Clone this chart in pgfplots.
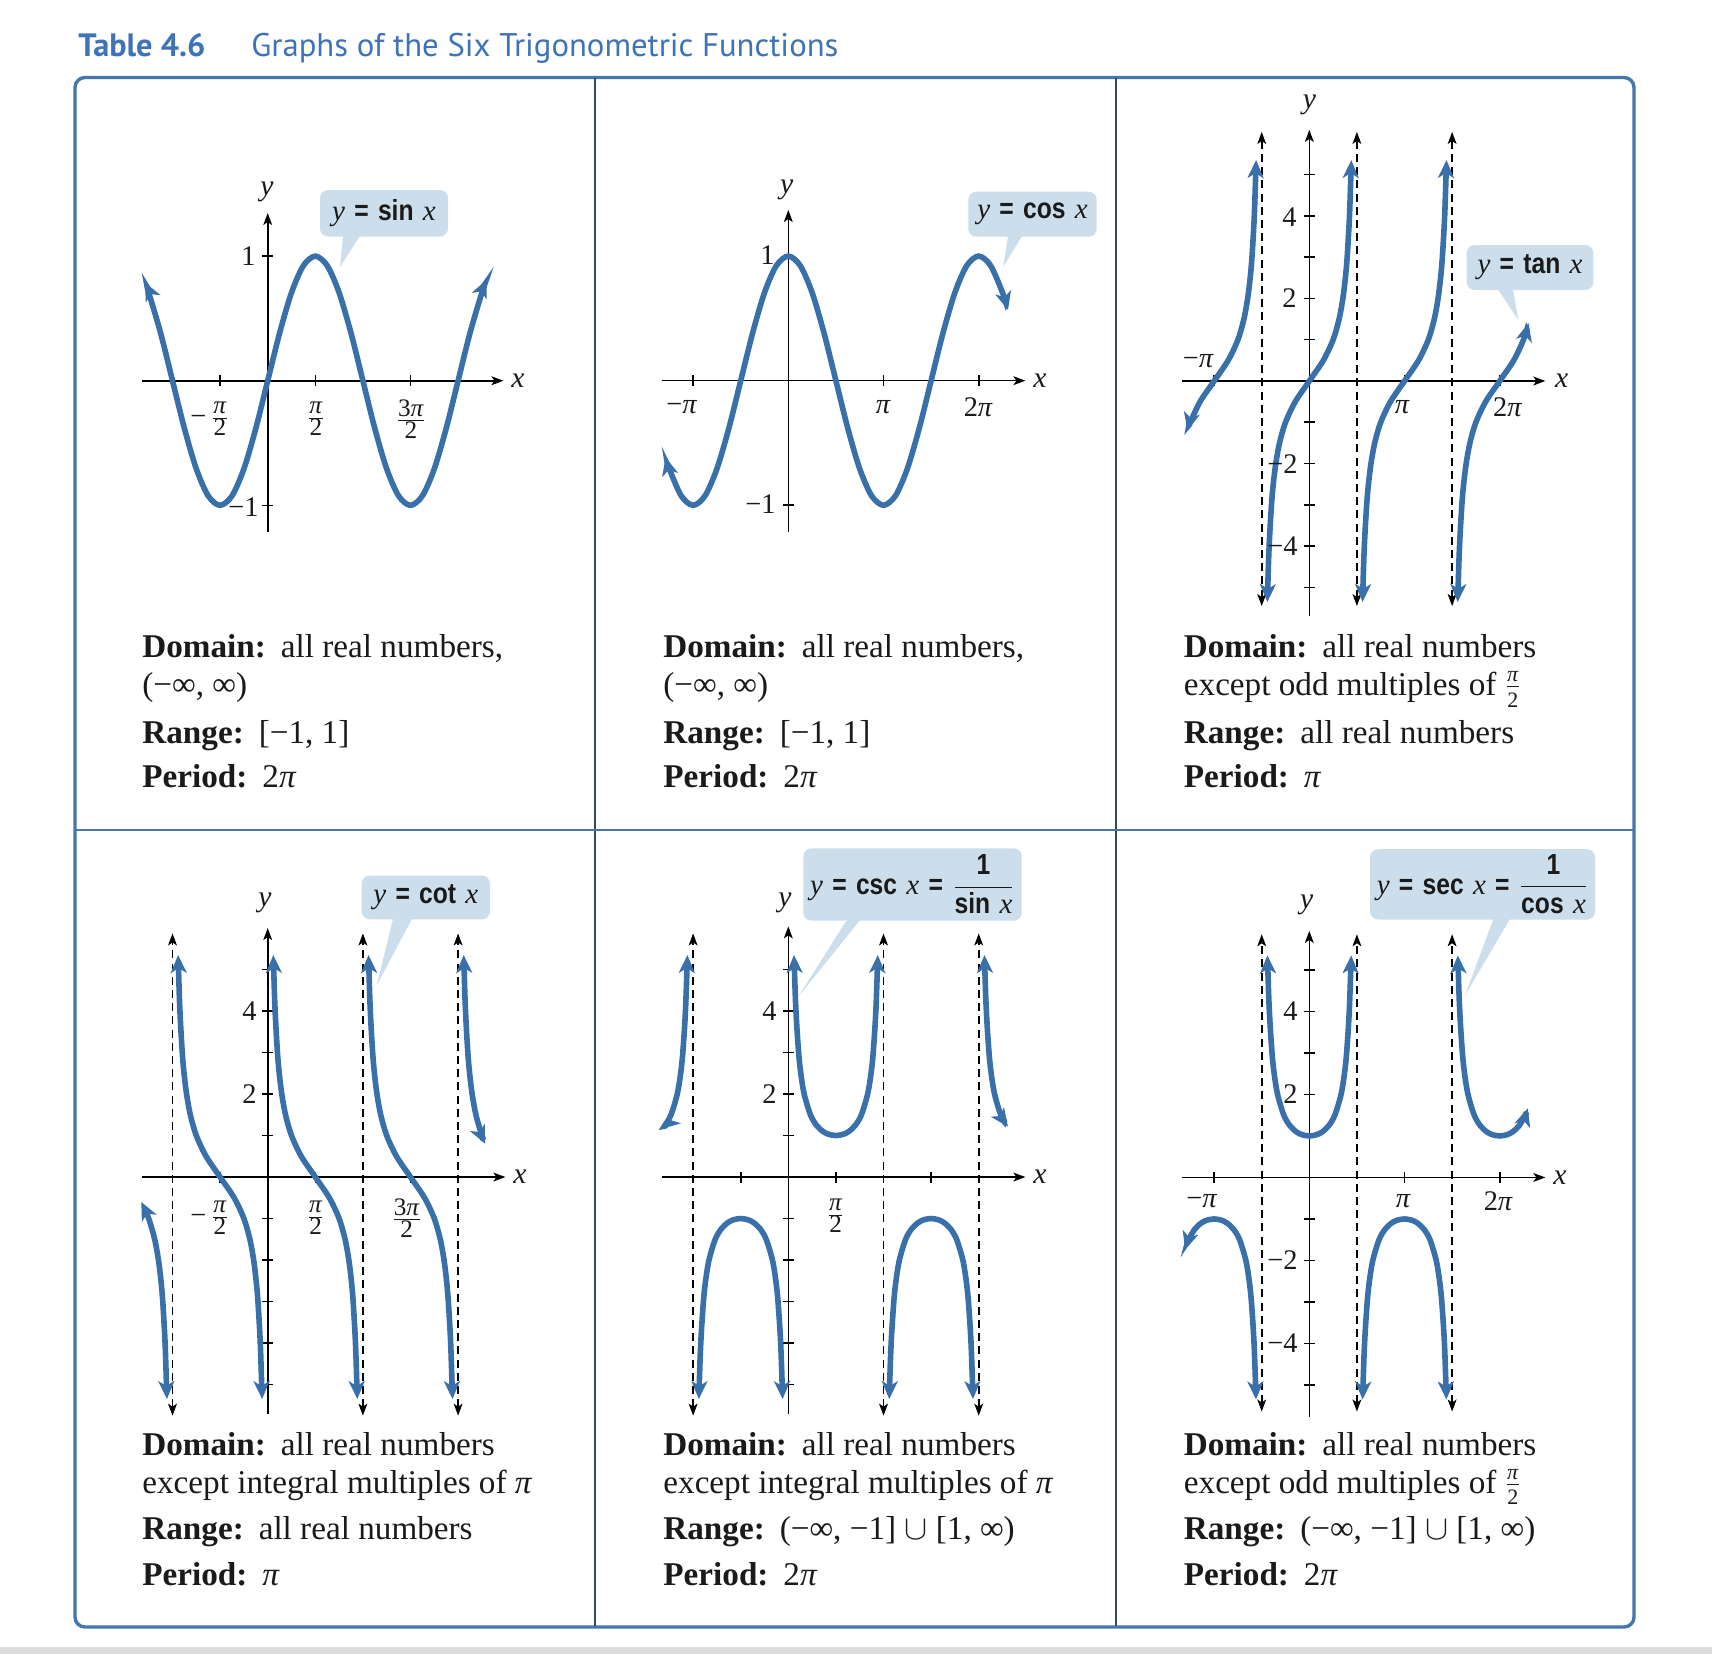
\documentclass[border=0pt]{standalone}
\usepackage{pgfplots}
\pgfplotsset{compat=1.18}
\usetikzlibrary{arrows.meta}
\usepackage{graphicx}
\usepackage{fontspec}
\setmainfont{Liberation Serif}
\newfontfamily\titlefont{PT Sans}
\newfontfamily\csans[FakeStretch=0.85]{Liberation Sans}

\definecolor{curveblue}{HTML}{3A70AA}
\definecolor{titleblue}{HTML}{3F73B8}
\definecolor{boxblue}{HTML}{4677AC}
\definecolor{divnavy}{HTML}{2E4A6B}
\definecolor{callfill}{HTML}{CCDEEB}
\definecolor{bargray}{HTML}{DCDDDF}
\definecolor{txt}{HTML}{1A1A1A}

\newcommand{\tkf}{\fontsize{14.2pt}{16pt}\selectfont}
\newcommand{\axf}{\fontsize{14.8pt}{16pt}\selectfont\itshape}
\newcommand{\btf}{\fontsize{16.6pt}{20pt}\selectfont}
\newcommand{\ctf}{\fontsize{14.5pt}{17pt}\selectfont}
\newcommand{\csb}[1]{{\csans\bfseries #1}}
\newcommand{\cg}{\hspace{0.32em}}
\newcommand{\pii}{\textit{π}}
\newcommand{\myfr}[1]{$\frac{\mbox{\fontsize{12.6pt}{13pt}\selectfont #1}}{\mbox{\fontsize{12.6pt}{13pt}\selectfont 2}}$}
\newcommand{\txtfr}{$\frac{\mbox{\fontsize{11pt}{12pt}\selectfont\textit{π}}}{\mbox{\fontsize{11pt}{12pt}\selectfont 2}}$}
\newcommand{\gap}{\hspace{0.45em}}

\tikzset{
  ctip/.tip={Stealth[length=9pt,width=8pt,inset=2.5pt]},
  atip/.tip={Stealth[length=6pt,width=4.4pt,inset=1.5pt]},
}
\pgfplotsset{
  trig/.style={
    axis lines=middle, enlargelimits=false, clip=false,
    anchor=south west, x=15.15pt,
    xticklabels={}, yticklabels={},
    xticklabel style={text opacity=0}, yticklabel style={text opacity=0},
    tick align=center, major tick length=5.5pt,
    tick style={black, line width=0.8pt},
    axis line style={black, line width=0.8pt},
    x axis line style={-atip}, y axis line style={-atip},
  },
  crv/.style={curveblue, line width=2.8pt, smooth, mark=none, arrows={ctip-ctip}},
  asy/.style={black, line width=0.8pt, dash pattern=on 4pt off 2.6pt, mark=none, arrows={atip-atip}},
}

\newcommand{\callout}[9]{%
  \fill[callfill, rounded corners=4pt] (#1,#2) rectangle (#3,#4);
  \fill[callfill] (#5,#4-0.5) -- (#7,#8) -- (#6,#4-0.5) -- cycle;
  \node[inner sep=0pt, text=txt] at ({(#1+#3)/2},{(#2+#4)/2}) {\ctf #9};}

\begin{document}
\begin{tikzpicture}[x=0.5pt,y=-0.5pt, lb/.style={inner sep=0pt, text=txt}]
\useasboundingbox (0,0) rectangle (1712,1654);
\fill[white] (0,0) rectangle (1712,1654);
\fill[bargray] (0,1647) rectangle (1712,1654);

% title
\node[inner sep=0pt, anchor=base west, text=titleblue] at (78,56) {\resizebox{63.5pt}{!}{\titlefont\bfseries Table 4.6}};
\node[inner sep=0pt, anchor=base west, text=titleblue] at (251,56) {\resizebox{293.5pt}{!}{\titlefont Graphs of the Six Trigonometric Functions}};

% frame
\draw[boxblue, line width=1.7pt, rounded corners=5pt] (75,77.5) rectangle (1634,1627);
\draw[divnavy, line width=0.6pt] (595,78) -- (595,1626);
\draw[divnavy, line width=0.6pt] (1116,78) -- (1116,1626);
\draw[boxblue, line width=0.7pt] (75,830) -- (1634,830);

% ---------------- sin ----------------
\begin{axis}[trig, at={(70.75pt,-266pt)}, y=62.3pt,
  xmin=-4.165, xmax=7.78, ymin=-1.214, ymax=1.346,
  xtick={-1.5708,1.5708,4.7124}, ytick={-1,1}]
\addplot[crv] coordinates {(-4.05,0.7884) (-3.927,0.7071) (-3.5343,0.3827) (-3.1416,0) (-2.7489,-0.3827) (-2.3562,-0.7071) (-1.9635,-0.9239) (-1.5708,-1) (-1.1781,-0.9239) (-0.7854,-0.7071) (-0.3927,-0.3827) (0,0) (0.3927,0.3827) (0.7854,0.7071) (1.1781,0.9239) (1.5708,1) (1.9635,0.9239) (2.3562,0.7071) (2.7489,0.3827) (3.1416,0) (3.5343,-0.3827) (3.927,-0.7071) (4.3197,-0.9239) (4.7124,-1) (5.1051,-0.9239) (5.4978,-0.7071) (5.8905,-0.3827) (6.2832,0) (6.6759,0.3827) (7.0686,0.7071) (7.23,0.8115)};
\end{axis}
\node[lb] at (220,419) {\tkf\llap{−\,}\myfr{\pii}};
\node[lb] at (316,419) {\tkf\myfr{\pii}};
\node[lb] at (411,419) {\tkf\myfr{3\pii}};
\node[lb, anchor=east] at (256,256) {\tkf 1};
\node[lb, anchor=east] at (259,507) {\tkf −1};
\node[lb] at (267,192) {\axf y};
\node[lb] at (518,381) {\axf x};
\callout{320}{190}{448}{236.5}{343}{360}{340}{267}{\textit{y}\cg\csb{=}\cg\csb{sin}\cg\textit{x}}

% ---------------- cos ----------------
\begin{axis}[trig, at={(330.75pt,-265.85pt)}, y=62.3pt,
  xmin=-4.185, xmax=7.825, ymin=-1.212, ymax=1.37,
  xtick={-3.1416,3.1416,6.2832}, ytick={-1,1}]
\addplot[crv] coordinates {(-4.05,-0.615) (-3.927,-0.7071) (-3.5343,-0.9239) (-3.1416,-1) (-2.7489,-0.9239) (-2.3562,-0.7071) (-1.9635,-0.3827) (-1.5708,0) (-1.1781,0.3827) (-0.7854,0.7071) (-0.3927,0.9239) (0,1) (0.3927,0.9239) (0.7854,0.7071) (1.1781,0.3827) (1.5708,0) (1.9635,-0.3827) (2.3562,-0.7071) (2.7489,-0.9239) (3.1416,-1) (3.5343,-0.9239) (3.927,-0.7071) (4.3197,-0.3827) (4.7124,0) (5.1051,0.3827) (5.4978,0.7071) (5.8905,0.9239) (6.2832,1) (6.6759,0.9239) (7.0686,0.7071) (7.25,0.569)};
\end{axis}
\node[lb] at (681.7,407) {\tkf −\pii};
\node[lb] at (883.3,407) {\tkf \pii};
\node[lb] at (978.3,407) {\tkf 2\pii};
\node[lb, anchor=east] at (775,255) {\tkf 1};
\node[lb, anchor=east] at (776,504) {\tkf −1};
\node[lb] at (786.7,190) {\axf y};
\node[lb] at (1040,381) {\axf x};
\callout{968.3}{191.7}{1096.7}{236.7}{1008}{1022}{1003.3}{266.7}{\textit{y}\cg\csb{=}\cg\csb{cos}\cg\textit{x}}

% ---------------- tan ----------------
\begin{axis}[trig, at={(590.75pt,-308.2pt)}, y=20.65pt,
  xmin=-4.218, xmax=7.79, ymin=-5.7, ymax=6.08,
  xtick={-3.1416,3.1416,6.2832}, ytick={-5,-4,-3,-2,-1,1,2,3,4,5}]
\addplot[asy] coordinates {(-1.5708,-5.45) (-1.5708,6.03)};
\addplot[asy] coordinates {(1.5708,-5.45) (1.5708,6.03)};
\addplot[asy] coordinates {(4.7124,-5.45) (4.7124,6.03)};
\addplot[crv] coordinates {(-4.0177,-1.2) (-3.927,-1) (-3.6052,-0.5) (-3.1416,0) (-2.678,0.5) (-2.3562,1) (-2.1588,1.5) (-2.0345,2) (-1.9513,2.5) (-1.8926,3) (-1.8158,4) (-1.7556,5.35)};
\addplot[crv] coordinates {(-1.386,-5.35) (-1.3258,-4) (-1.249,-3) (-1.1903,-2.5) (-1.1071,-2) (-0.9828,-1.5) (-0.7854,-1) (-0.4636,-0.5) (0,0) (0.4636,0.5) (0.7854,1) (0.9828,1.5) (1.1071,2) (1.1903,2.5) (1.249,3) (1.3258,4) (1.386,5.35)};
\addplot[crv] coordinates {(1.7556,-5.35) (1.8158,-4) (1.8926,-3) (1.9513,-2.5) (2.0345,-2) (2.1588,-1.5) (2.3562,-1) (2.678,-0.5) (3.1416,0) (3.6052,0.5) (3.927,1) (4.1244,1.5) (4.2487,2) (4.3319,2.5) (4.3906,3) (4.4674,4) (4.5276,5.35)};
\addplot[crv] coordinates {(4.8972,-5.35) (4.9574,-4) (5.0342,-3) (5.0929,-2.5) (5.1761,-2) (5.3004,-1.5) (5.4978,-1) (5.8196,-0.5) (6.2832,0) (6.7468,0.5) (7.0686,1) (7.2337,1.4)};
\end{axis}
\node[lb, anchor=east] at (1297,216.7) {\tkf 4};
\node[lb, anchor=east] at (1297,298.4) {\tkf 2};
\node[lb, anchor=east] at (1298,463.6) {\tkf −2};
\node[lb, anchor=east] at (1298,546.2) {\tkf −4};
\node[lb] at (1198.3,360.7) {\tkf −\pii};
\node[lb] at (1402.3,407) {\tkf \pii};
\node[lb] at (1507.7,407) {\tkf 2\pii};
\node[lb] at (1309.3,105) {\axf y};
\node[lb] at (1561.7,381) {\axf x};
\callout{1466.7}{245}{1593.3}{290}{1498}{1513}{1518.3}{320}{\textit{y}\cg\csb{=}\cg\csb{tan}\cg\textit{x}}

% ---------------- cot ----------------
\begin{axis}[trig, at={(70.75pt,-707pt)}, y=20.75pt,
  xmin=-4.165, xmax=7.845, ymin=-5.71, ymax=6.0,
  xtick={-1.5708,1.5708,4.7124}, ytick={-5,-4,-3,-2,-1,1,2,3,4,5}]
\addplot[asy] coordinates {(-3.1416,-5.75) (-3.1416,5.87)};
\addplot[asy] coordinates {(3.1416,-5.75) (3.1416,5.87)};
\addplot[asy] coordinates {(6.2832,-5.75) (6.2832,5.87)};
\addplot[crv] coordinates {(-4.172,-0.6) (-3.927,-1) (-3.7296,-1.5) (-3.6053,-2) (-3.5221,-2.5) (-3.4634,-3) (-3.3866,-4) (-3.3264,-5.35)};
\addplot[crv] coordinates {(-2.9568,5.35) (-2.8966,4) (-2.8198,3) (-2.7611,2.5) (-2.6779,2) (-2.5536,1.5) (-2.3562,1) (-2.0344,0.5) (-1.5708,0) (-1.1072,-0.5) (-0.7854,-1) (-0.588,-1.5) (-0.4637,-2) (-0.3805,-2.5) (-0.3218,-3) (-0.245,-4) (-0.1848,-5.35)};
\addplot[crv] coordinates {(0.1848,5.35) (0.245,4) (0.3218,3) (0.3805,2.5) (0.4637,2) (0.588,1.5) (0.7854,1) (1.1072,0.5) (1.5708,0) (2.0344,-0.5) (2.3562,-1) (2.5536,-1.5) (2.6779,-2) (2.7611,-2.5) (2.8198,-3) (2.8966,-4) (2.9568,-5.35)};
\addplot[crv] coordinates {(3.3264,5.35) (3.3866,4) (3.4634,3) (3.5221,2.5) (3.6053,2) (3.7296,1.5) (3.927,1) (4.2488,0.5) (4.7124,0) (5.176,-0.5) (5.4978,-1) (5.6952,-1.5) (5.8195,-2) (5.9027,-2.5) (5.9614,-3) (6.0382,-4) (6.0984,-5.35)};
\addplot[crv] coordinates {(6.468,5.35) (6.5282,4) (6.605,3) (6.6637,2.5) (6.7469,2) (6.8712,1.5) (7.0686,1) (7.1793,0.8)};
\end{axis}
\node[lb, anchor=east] at (257,1011) {\tkf 4};
\node[lb, anchor=east] at (257,1094) {\tkf 2};
\node[lb] at (220,1218) {\tkf\llap{−\,}\myfr{\pii}};
\node[lb] at (315.7,1218) {\tkf\myfr{\pii}};
\node[lb] at (406.7,1218) {\tkf\myfr{3\pii}};
\node[lb] at (265,903) {\axf y};
\node[lb] at (520,1177) {\axf x};
\callout{361.7}{875.6}{490}{919.3}{393}{412}{376.7}{985.4}{\textit{y}\cg\csb{=}\cg\csb{cot}\cg\textit{x}}

% ---------------- csc ----------------
\begin{axis}[trig, at={(330.75pt,-707pt)}, y=20.75pt,
  xmin=-4.185, xmax=7.825, ymin=-5.71, ymax=6.04,
  xtick={-1.5708,1.5708,4.7124}, ytick={-5,-4,-3,-2,-1,1,2,3,4,5}]
\addplot[asy] coordinates {(-3.1416,-5.75) (-3.1416,5.87)};
\addplot[asy] coordinates {(3.1416,-5.75) (3.1416,5.87)};
\addplot[asy] coordinates {(6.2832,-5.75) (6.2832,5.87)};
\addplot[crv] coordinates {(-4.18,1.1605) (-4.0689,1.25) (-3.8713,1.5) (-3.6652,2) (-3.5531,2.5) (-3.4814,3) (-3.3943,4) (-3.3296,5.35)};
\addplot[crv] coordinates {(-2.9536,-5.35) (-2.8889,-4) (-2.8018,-3) (-2.7301,-2.5) (-2.618,-2) (-2.4119,-1.5) (-2.2143,-1.25) (-2.0006,-1.1) (-1.8128,-1.03) (-1.5708,-1) (-1.3288,-1.03) (-1.141,-1.1) (-0.9273,-1.25) (-0.7297,-1.5) (-0.5236,-2) (-0.4115,-2.5) (-0.3398,-3) (-0.2527,-4) (-0.188,-5.35)};
\addplot[crv] coordinates {(0.188,5.35) (0.2527,4) (0.3398,3) (0.4115,2.5) (0.5236,2) (0.7297,1.5) (0.9273,1.25) (1.141,1.1) (1.3288,1.03) (1.5708,1) (1.8128,1.03) (2.0006,1.1) (2.2143,1.25) (2.4119,1.5) (2.618,2) (2.7301,2.5) (2.8018,3) (2.8889,4) (2.9536,5.35)};
\addplot[crv] coordinates {(3.3296,-5.35) (3.3943,-4) (3.4814,-3) (3.5531,-2.5) (3.6652,-2) (3.8713,-1.5) (4.0689,-1.25) (4.2826,-1.1) (4.4704,-1.03) (4.7124,-1) (4.9543,-1.03) (5.1422,-1.1) (5.3559,-1.25) (5.5535,-1.5) (5.7596,-2) (5.8717,-2.5) (5.9433,-3) (6.0305,-4) (6.0952,-5.35)};
\addplot[crv] coordinates {(6.4712,5.35) (6.5359,4) (6.623,3) (6.6947,2.5) (6.8068,2) (7.0129,1.5) (7.25,1.2143)};
\end{axis}
\node[lb, anchor=east] at (777,1011) {\tkf 4};
\node[lb, anchor=east] at (777,1094) {\tkf 2};
\node[lb] at (835.7,1216) {\tkf\myfr{\pii}};
\node[lb] at (785,903) {\axf y};
\node[lb] at (1040,1177) {\axf x};
\callout{803.3}{848.3}{1021.7}{920.7}{846.7}{860}{798.3}{996.7}{\textit{y}\cg\csb{=}\cg\csb{csc}\cg\textit{x}\cg\csb{=}\cg$\displaystyle\frac{\mbox{\csb{1}}}{\mbox{\csb{sin}\cg\textit{x}}}$}

% ---------------- sec ----------------
\begin{axis}[trig, at={(590.75pt,-708.45pt)}, y=20.75pt,
  xmin=-4.218, xmax=7.79, ymin=-5.77, ymax=5.94,
  xtick={-3.1416,3.1416,6.2832}, ytick={-5,-4,-3,-2,-1,1,2,3,4,5}]
\addplot[asy] coordinates {(-1.5708,-5.64) (-1.5708,5.86)};
\addplot[asy] coordinates {(1.5708,-5.64) (1.5708,5.86)};
\addplot[asy] coordinates {(4.7124,-5.64) (4.7124,5.86)};
\addplot[crv] coordinates {(-4.1,-1.7397) (-3.9827,-1.5) (-3.7851,-1.25) (-3.5714,-1.1) (-3.3836,-1.03) (-3.1416,-1) (-2.8996,-1.03) (-2.7118,-1.1) (-2.4981,-1.25) (-2.3005,-1.5) (-2.0944,-2) (-1.9823,-2.5) (-1.9106,-3) (-1.8235,-4) (-1.7588,-5.35)};
\addplot[crv] coordinates {(-1.3828,5.35) (-1.3181,4) (-1.231,3) (-1.1593,2.5) (-1.0472,2) (-0.8411,1.5) (-0.6435,1.25) (-0.4298,1.1) (-0.242,1.03) (0,1) (0.242,1.03) (0.4298,1.1) (0.6435,1.25) (0.8411,1.5) (1.0472,2) (1.1593,2.5) (1.231,3) (1.3181,4) (1.3828,5.35)};
\addplot[crv] coordinates {(1.7588,-5.35) (1.8235,-4) (1.9106,-3) (1.9823,-2.5) (2.0944,-2) (2.3005,-1.5) (2.4981,-1.25) (2.7118,-1.1) (2.8996,-1.03) (3.1416,-1) (3.3836,-1.03) (3.5714,-1.1) (3.7851,-1.25) (3.9827,-1.5) (4.1888,-2) (4.3009,-2.5) (4.3726,-3) (4.4597,-4) (4.5244,-5.35)};
\addplot[crv] coordinates {(4.9004,5.35) (4.9651,4) (5.0522,3) (5.1239,2.5) (5.236,2) (5.4421,1.5) (5.6397,1.25) (5.8534,1.1) (6.0412,1.03) (6.2832,1) (6.5252,1.03) (6.713,1.1) (6.9267,1.25) (7.1243,1.5) (7.21,1.666)};
\end{axis}
\node[lb, anchor=east] at (1298,1011.4) {\tkf 4};
\node[lb, anchor=east] at (1298,1094.4) {\tkf 2};
\node[lb, anchor=east] at (1298,1260.4) {\tkf −2};
\node[lb, anchor=east] at (1298,1343.4) {\tkf −4};
\node[lb] at (1201.7,1201) {\tkf −\pii};
\node[lb] at (1403.3,1201) {\tkf \pii};
\node[lb] at (1498.3,1201) {\tkf 2\pii};
\node[lb] at (1306.7,904.7) {\axf y};
\node[lb] at (1560,1177.4) {\axf x};
\callout{1370}{849.2}{1595}{919.5}{1493.3}{1510}{1465}{995.4}{\textit{y}\cg\csb{=}\cg\csb{sec}\cg\textit{x}\cg\csb{=}\cg$\displaystyle\frac{\mbox{\csb{1}}}{\mbox{\csb{cos}\cg\textit{x}}}$}

% ---------------- text blocks ----------------
\node[lb, anchor=base west] at (142,657.5) {\btf\textbf{Domain:}\gap all real numbers,};
\node[lb, anchor=base west] at (142,695.5) {\btf (−∞, ∞)};
\node[lb, anchor=base west] at (142,743) {\btf\textbf{Range:}\gap [−1, 1]};
\node[lb, anchor=base west] at (142,787.5) {\btf\textbf{Period:}\gap 2\pii};

\node[lb, anchor=base west] at (663,657.5) {\btf\textbf{Domain:}\gap all real numbers,};
\node[lb, anchor=base west] at (663,695.5) {\btf (−∞, ∞)};
\node[lb, anchor=base west] at (663,743) {\btf\textbf{Range:}\gap [−1, 1]};
\node[lb, anchor=base west] at (663,787.5) {\btf\textbf{Period:}\gap 2\pii};

\node[lb, anchor=base west] at (1183.5,657.5) {\btf\textbf{Domain:}\gap all real numbers};
\node[lb, anchor=base west] at (1183.5,695.5) {\btf except odd multiples of \txtfr};
\node[lb, anchor=base west] at (1183.5,743) {\btf\textbf{Range:}\gap all real numbers};
\node[lb, anchor=base west] at (1183.5,787.5) {\btf\textbf{Period:}\gap \pii};

\node[lb, anchor=base west] at (142,1455) {\btf\textbf{Domain:}\gap all real numbers};
\node[lb, anchor=base west] at (142,1493) {\btf except integral multiples of \pii};
\node[lb, anchor=base west] at (142,1539.5) {\btf\textbf{Range:}\gap all real numbers};
\node[lb, anchor=base west] at (142,1585.5) {\btf\textbf{Period:}\gap \pii};

\node[lb, anchor=base west] at (663,1455) {\btf\textbf{Domain:}\gap all real numbers};
\node[lb, anchor=base west] at (663,1493) {\btf except integral multiples of \pii};
\node[lb, anchor=base west] at (663,1539.5) {\btf\textbf{Range:}\gap (−∞, −1] $\cup$ [1, ∞)};
\node[lb, anchor=base west] at (663,1585.5) {\btf\textbf{Period:}\gap 2\pii};

\node[lb, anchor=base west] at (1183.5,1455) {\btf\textbf{Domain:}\gap all real numbers};
\node[lb, anchor=base west] at (1183.5,1493) {\btf except odd multiples of \txtfr};
\node[lb, anchor=base west] at (1183.5,1539.5) {\btf\textbf{Range:}\gap (−∞, −1] $\cup$ [1, ∞)};
\node[lb, anchor=base west] at (1183.5,1585.5) {\btf\textbf{Period:}\gap 2\pii};
\end{tikzpicture}
\end{document}
